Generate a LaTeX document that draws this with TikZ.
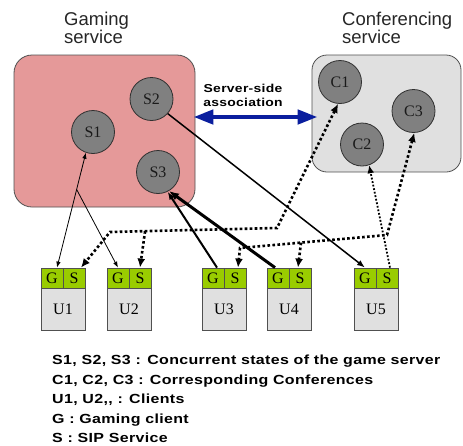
\documentclass[tikz,border=0pt]{standalone}
\usepackage{fontspec}
\setmainfont{Liberation Serif}
\newfontfamily\titlefont{Liberation Sans}
\newfontfamily\keyfont[FakeStretch=1.21,LetterSpace=2.5]{Liberation Sans}
\usetikzlibrary{arrows.meta,calc}

\definecolor{gamepink}{HTML}{E59999}
\definecolor{confgray}{HTML}{E0E0E0}
\definecolor{boxline}{HTML}{505050}
\definecolor{stategray}{HTML}{808080}
\definecolor{stateline}{HTML}{303030}
\definecolor{statetext}{HTML}{1A1A1A}
\definecolor{cellgreen}{HTML}{99CC00}
\definecolor{cellgray}{HTML}{E0E0E0}
\definecolor{titletext}{HTML}{262626}
\definecolor{assocblue}{HTML}{0A1E9E}

\tikzset{
  svcbox/.style={draw=boxline, line width=0.8pt, inner sep=0pt},
  statenode/.style={circle, draw=stateline, fill=stategray, line width=0.8pt,
    minimum size=43pt, inner sep=0pt, text=statetext,
    font=\fontsize{16}{16}\selectfont},
  gscell/.style={draw=boxline, fill=cellgreen, line width=0.8pt,
    minimum width=22pt, minimum height=20pt, inner sep=0pt,
    font=\fontsize{16}{16}\selectfont},
  userbody/.style={draw=boxline, fill=cellgray, line width=0.8pt,
    minimum width=44pt, minimum height=42pt, inner sep=0pt,
    font=\fontsize{16}{16}\selectfont},
  svctitle/.style={font=\titlefont\fontsize{18.5}{18.5}\selectfont, text=titletext,
    inner sep=0pt, anchor=base west},
  keyline/.style={font=\keyfont\bfseries\fontsize{13.2}{13.2}\selectfont,
    inner sep=0pt, anchor=base west},
  thinlink/.style={line width=0.8pt},
  gamelink/.style={line width=1.5pt, -{Latex[length=8pt,width=6pt]}},
  sipdots/.style={line width=2.6pt, dash pattern=on 2.6pt off 2.4pt},
  sipthin/.style={line width=1.8pt, dash pattern=on 1.8pt off 1.8pt},
  assoc/.style={draw=assocblue, line width=4.5pt,
    {Triangle[length=20pt,width=14pt]}-{Triangle[length=20pt,width=14pt]}}
}

\begin{document}
\begin{tikzpicture}[x=1pt,y=-1pt]
\useasboundingbox (0,0) rectangle (463,445);

% service areas
\node[svcbox, fill=gamepink, rounded corners=18pt,
      minimum width=181pt, minimum height=152pt] (gbox) at (104.5,131) {};
\node[svcbox, fill=confgray, rounded corners=15pt,
      minimum width=149pt, minimum height=117pt] (cbox) at (386.5,113.5) {};

\node[svctitle] (gt1) at (64,25) {Gaming};
\node[svctitle] (gt2) at (64,43.5) {service};
\node[svctitle] (ct1) at (342,25) {Conferencing};
\node[svctitle] (ct2) at (342,43.5) {service};

% game server states and conferences
\node[statenode] (st1) at (93,132) {S1};
\node[statenode] (st2) at (151.5,99) {S2};
\node[statenode] (st3) at (158,172) {S3};
\node[statenode] (cf1) at (340,82) {C1};
\node[statenode] (cf2) at (362,144.5) {C2};
\node[statenode] (cf3) at (413.5,111) {C3};

% server-side association
\coordinate (assocy) at (0,117);
\draw[assoc] ([xshift=-2pt]gbox.east |- assocy) -- ([xshift=6pt]cbox.west |- assocy);
\node[align=center, inner sep=0pt,
      font=\keyfont\bfseries\fontsize{11.5}{14}\selectfont] (assoclbl) at (243,95)
      {Server-side\\association};

% clients: gaming part, SIP part, user
\foreach \i/\x in {1/41,2/107,3/202,4/267,5/354}{
  \node[gscell] (cg\i) at (\x+11,278) {G};
  \node[gscell] (cs\i) at (\x+33,278) {S};
  \node[userbody] (user\i) at (\x+22,309) {U\i};
}

% gaming links
\draw[thinlink, {Latex[length=6pt,width=4.5pt]}-{Latex[length=6pt,width=4.5pt]}]
  (st1.251) -- coordinate[pos=0.32] (fork1) ([xshift=5pt]cg1.north);
\draw[thinlink, -{Latex[length=6pt,width=4.5pt]}] (fork1) -- (cg2.north);
\draw[gamelink] (st2.318) -- (cg5.north);
\draw[gamelink, line width=2pt] ([xshift=4pt]cg3.north) -- (st3.296);
\draw[gamelink, line width=3pt, -{Latex[length=10pt,width=8pt]}] ([xshift=-3pt]cg4.north) -- (st3.300);

% SIP links to the conferences
\draw[sipdots, {Latex[length=9pt,width=8pt]}-{Latex[length=9pt,width=8pt]}]
  (cf1.265) -- (277,228) -- coordinate[pos=0.79] (fork2) (110,232) -- ([xshift=7pt]cs1.north);
\draw[sipdots, -{Latex[length=9pt,width=8pt]}] (fork2) -- (cs2.north);
\draw[sipdots, {Latex[length=9pt,width=8pt]}-{Latex[length=9pt,width=8pt]}]
  (cf3.272) -- (387,235) -- coordinate[pos=0.585] (fork3) (240,248) -- ([xshift=3pt]cs3.north);
\draw[sipdots, -{Latex[length=9pt,width=8pt]}] (fork3) -- ([xshift=-2pt]cs4.north);
\draw[sipthin, -{Latex[length=8pt,width=7pt]}] ([xshift=3pt]cs5.north) -- (cf2.289);

% key
\node[keyline] (key1) at (52,364.5) {S1, S2, S3 : Concurrent states of the game server};
\node[keyline] (key2) at (52,384) {C1, C2, C3 : Corresponding Conferences};
\node[keyline] (key3) at (52,403.5) {U1, U2,, : Clients};
\node[keyline] (key4) at (52,423) {G : Gaming client};
\node[keyline] (key5) at (52,442.5) {S : SIP Service};
\end{tikzpicture}
\end{document}
